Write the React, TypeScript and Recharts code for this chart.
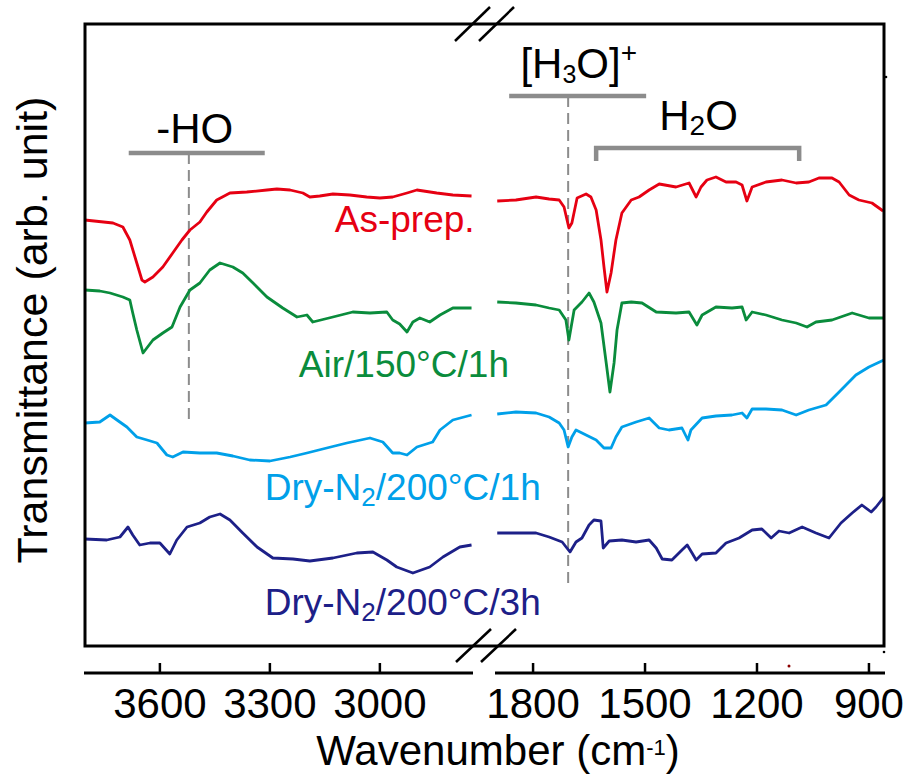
import React from 'react';
import { LineChart, Line, XAxis, YAxis, ReferenceDot } from 'recharts';

type Pair = [number, number];

const FONT = 'Arial, "Liberation Sans", Helvetica, sans-serif';

// axis set-up (wavenumber, cm-1)
const LEFT_DOMAIN: [number, number] = [2746, 3807];
const RIGHT_DOMAIN: [number, number] = [857, 1902];
const LEFT_TICKS = [3600, 3300, 3000];
const RIGHT_TICKS = [1800, 1500, 1200, 900];
const Y_DOMAIN: [number, number] = [0, 64.9];

// series: [wavenumber, transmittance (arb. unit, offset)]
const asPrepLeft: Pair[] = [[3805,45.3],[3728,45.0],[3701,44.6],[3682,43.3],[3663,41.0],[3649,39.3],[3641,39.1],[3619,39.6],[3592,40.6],[3565,42.0],[3540,43.3],[3518,44.3],[3491,45.1],[3472,46.1],[3445,47.3],[3409,48.0],[3363,48.1],[3308,48.3],[3281,48.4],[3245,48.3],[3210,48.0],[3191,47.6],[3164,47.7],[3128,47.9],[3082,47.8],[3036,47.6],[3000,47.5],[2965,47.6],[2926,48.0],[2899,48.3],[2845,48.0],[2801,47.8],[2750,47.7]];
const asPrepRight: Pair[] = [[1896,47.2],[1846,47.3],[1792,47.6],[1757,47.4],[1730,47.3],[1717,46.6],[1704,44.5],[1696,45.0],[1682,47.5],[1658,47.9],[1645,47.6],[1631,46.3],[1618,43.3],[1610,40.6],[1602,38.1],[1591,40.0],[1578,43.3],[1562,46.0],[1537,47.3],[1516,47.6],[1489,48.3],[1462,48.9],[1417,48.6],[1382,49.0],[1363,47.6],[1350,48.6],[1334,49.3],[1310,49.6],[1283,49.1],[1256,49.1],[1240,48.8],[1227,47.2],[1213,48.6],[1176,49.1],[1133,49.3],[1095,49.0],[1061,49.1],[1034,49.5],[999,49.5],[980,49.1],[953,47.8],[927,47.3],[892,47.0],[862,46.2]];

const airLeft: Pair[] = [[3805,38.3],[3764,38.2],[3736,38.0],[3701,37.6],[3682,37.3],[3674,36.0],[3663,34.3],[3646,32.0],[3619,33.3],[3592,34.0],[3567,34.6],[3545,36.6],[3518,38.3],[3491,39.0],[3464,40.3],[3436,41.0],[3401,40.6],[3374,40.0],[3346,39.0],[3308,37.6],[3265,36.5],[3226,35.6],[3199,35.8],[3183,35.1],[3128,35.6],[3074,36.1],[3027,36.0],[2981,36.1],[2965,35.3],[2946,34.9],[2926,34.1],[2910,35.1],[2891,35.5],[2864,35.1],[2836,35.8],[2801,36.5],[2750,36.5]];
const airRight: Pair[] = [[1896,37.1],[1846,37.0],[1792,36.8],[1757,36.5],[1730,36.3],[1712,35.3],[1704,33.3],[1690,36.3],[1669,37.1],[1650,38.0],[1637,37.1],[1618,35.0],[1604,31.0],[1594,28.1],[1583,31.0],[1575,34.3],[1562,37.0],[1537,37.1],[1508,37.0],[1470,36.1],[1417,36.0],[1382,36.1],[1361,34.8],[1347,35.8],[1310,36.6],[1267,36.5],[1240,36.6],[1229,35.3],[1213,36.1],[1176,35.8],[1133,35.3],[1095,35.0],[1066,34.6],[1042,35.1],[999,35.3],[945,36.0],[900,35.5],[862,35.5]];

const dry1hLeft: Pair[] = [[3805,25.0],[3764,25.1],[3736,25.8],[3717,25.3],[3690,24.6],[3663,23.6],[3635,23.3],[3608,23.0],[3581,21.8],[3565,21.6],[3537,22.1],[3491,22.0],[3445,22.0],[3401,21.7],[3355,21.3],[3300,21.2],[3245,21.6],[3199,22.0],[3145,22.5],[3090,23.0],[3027,23.5],[2992,23.1],[2965,22.0],[2946,22.0],[2926,21.8],[2899,22.6],[2856,23.1],[2836,24.3],[2801,25.3],[2750,25.8]];
const dry1hRight: Pair[] = [[1896,25.9],[1846,26.1],[1792,26.0],[1757,25.6],[1730,25.0],[1717,24.3],[1706,22.6],[1696,23.6],[1685,24.3],[1658,23.8],[1631,23.3],[1610,22.5],[1591,22.5],[1578,23.6],[1562,24.6],[1524,25.1],[1489,25.5],[1462,24.5],[1436,24.3],[1401,24.5],[1385,23.3],[1377,24.3],[1347,25.5],[1310,25.7],[1267,25.8],[1240,26.0],[1227,25.5],[1213,26.4],[1176,26.4],[1133,26.3],[1095,25.8],[1061,26.3],[1015,26.8],[980,28.1],[935,29.8],[900,30.6],[860,31.3]];

const dry3hLeft: Pair[] = [[3805,13.4],[3745,13.3],[3709,13.6],[3687,14.6],[3674,13.8],[3655,12.8],[3627,13.0],[3600,13.0],[3573,11.9],[3554,13.3],[3526,14.6],[3491,15.0],[3464,15.6],[3436,15.9],[3409,15.3],[3374,14.0],[3335,12.6],[3292,11.5],[3237,11.4],[3191,11.2],[3128,11.5],[3063,12.0],[3019,12.1],[2981,11.3],[2954,10.6],[2910,10.0],[2864,10.6],[2828,11.6],[2782,12.6],[2750,12.8]];
const dry3hRight: Pair[] = [[1896,14.0],[1846,14.0],[1792,14.0],[1757,13.6],[1722,13.1],[1701,12.1],[1685,13.1],[1669,13.5],[1650,14.8],[1637,15.3],[1618,15.2],[1612,12.5],[1596,13.2],[1562,13.3],[1524,13.1],[1489,13.3],[1470,12.5],[1454,11.4],[1428,11.3],[1401,12.3],[1387,12.8],[1374,12.0],[1363,11.3],[1347,11.9],[1310,12.0],[1283,13.0],[1248,13.5],[1213,14.3],[1187,14.4],[1162,13.5],[1141,14.2],[1114,14.0],[1079,14.6],[1042,14.0],[1007,13.5],[975,15.0],[945,16.0],[919,16.8],[894,16.1],[881,16.6],[860,17.6]];

// annotation guides
const hoBar: Pair[] = [[3685,52.0],[3314,52.0]];
const hoMarker: Pair[] = [[3521,52.0],[3521,25.1]];
const h3oBar: Pair[] = [[1864,57.7],[1497,57.7]];
const h3oMarker: Pair[] = [[1706,57.7],[1706,8.6]];
const h2oBracket: Pair[] = [[1631,51.2],[1631,52.5],[1087,52.5],[1087,51.2]];

const COLORS = {
  asPrep: '#E60012',
  air: '#0A8C3C',
  dry1h: '#00A0E9',
  dry3h: '#1D2088',
  guide: '#8C8C8C',
};

const toPts = (arr: Pair[]) => arr.map(([wn, t]) => ({ wn, t }));

const CustomTick = (props: any) => {
  const { x, y, payload } = props;
  return (
    <g>
      <line x1={x} x2={x} y1={y} y2={y - 10} stroke="#000" strokeWidth={2.5} />
      <text x={x} y={y + 15} dy="0.71em" textAnchor="middle" fontSize={42} fontFamily={FONT} fill="#000">
        {payload.value}
      </text>
    </g>
  );
};

const labelShape = (content: React.ReactNode, color: string, size: number, anchor: string) => (p: any) => (
  <text x={p.cx} y={p.cy} fill={color} fontSize={size} fontFamily={FONT} textAnchor={anchor}>
    {content}
  </text>
);

const seriesLine = (arr: Pair[], color: string, key: string) => (
  <Line
    key={key}
    data={toPts(arr)}
    dataKey="t"
    type="linear"
    dot={false}
    activeDot={false}
    stroke={color}
    strokeWidth={2.8}
    strokeLinejoin="round"
    isAnimationActive={false}
  />
);

const guideLine = (arr: Pair[], key: string, dashed = false) => (
  <Line
    key={key}
    data={toPts(arr)}
    dataKey="t"
    type="linear"
    dot={false}
    activeDot={false}
    stroke={COLORS.guide}
    strokeWidth={dashed ? 2 : 4.5}
    strokeDasharray={dashed ? '11 6' : undefined}
    isAnimationActive={false}
  />
);

const sub = (txt: string, size: number, dy: number, rest: string) => (
  <>
    <tspan fontSize={size} dy={dy}>{txt}</tspan>
    <tspan dy={-dy}>{rest}</tspan>
  </>
);

export default function App() {
  return (
    <div style={{ position: 'absolute', left: 0, top: 0, width: 909, height: 778, background: '#fff' }}>
      {/* Left panel: 3800 - 2750 cm-1 */}
      <div style={{ position: 'absolute', left: 0, top: 0 }}>
        <LineChart width={909} height={778} margin={{ top: 24, left: 84, right: 436, bottom: 45 }}>
          <XAxis
            type="number"
            dataKey="wn"
            domain={LEFT_DOMAIN}
            reversed
            allowDataOverflow
            ticks={LEFT_TICKS}
            interval={0}
            height={60}
            tickSize={0}
            tickMargin={0}
            tickLine={false}
            tick={<CustomTick />}
            axisLine={{ stroke: '#000', strokeWidth: 3 }}
          />
          <YAxis type="number" domain={Y_DOMAIN} hide allowDataOverflow />
          {guideLine(hoMarker, 'hoMarker', true)}
          {guideLine(hoBar, 'hoBar')}
          {seriesLine(asPrepLeft, COLORS.asPrep, 'a')}
          {seriesLine(airLeft, COLORS.air, 'b')}
          {seriesLine(dry1hLeft, COLORS.dry1h, 'c')}
          {seriesLine(dry3hLeft, COLORS.dry3h, 'd')}
          <ReferenceDot x={3505} y={53.0} shape={labelShape('-HO', '#000', 42, 'middle')} />
          <ReferenceDot x={3123} y={44.1} shape={labelShape('As-prep.', COLORS.asPrep, 37, 'start')} />
          <ReferenceDot x={3221} y={29.6} shape={labelShape('Air/150°C/1h', COLORS.air, 37, 'start')} />
          <ReferenceDot
            x={3314}
            y={17.3}
            shape={labelShape(<>Dry-N{sub('2', 26, 6, '/200°C/1h')}</>, COLORS.dry1h, 37, 'start')}
          />
          <ReferenceDot
            x={3314}
            y={5.8}
            shape={labelShape(<>Dry-N{sub('2', 26, 6, '/200°C/3h')}</>, COLORS.dry3h, 37, 'start')}
          />
        </LineChart>
      </div>

      {/* Right panel: 1900 - 860 cm-1 */}
      <div style={{ position: 'absolute', left: 0, top: 0 }}>
        <LineChart width={909} height={778} margin={{ top: 24, left: 495, right: 24, bottom: 45 }}>
          <XAxis
            type="number"
            dataKey="wn"
            domain={RIGHT_DOMAIN}
            reversed
            allowDataOverflow
            ticks={RIGHT_TICKS}
            interval={0}
            height={60}
            tickSize={0}
            tickMargin={0}
            tickLine={false}
            tick={<CustomTick />}
            axisLine={{ stroke: '#000', strokeWidth: 3 }}
          />
          <YAxis type="number" domain={Y_DOMAIN} hide allowDataOverflow />
          {guideLine(h3oMarker, 'h3oMarker', true)}
          {guideLine(h3oBar, 'h3oBar')}
          {guideLine(h2oBracket, 'h2oBracket')}
          {seriesLine(asPrepRight, COLORS.asPrep, 'a')}
          {seriesLine(airRight, COLORS.air, 'b')}
          {seriesLine(dry1hRight, COLORS.dry1h, 'c')}
          {seriesLine(dry3hRight, COLORS.dry3h, 'd')}
          <ReferenceDot
            x={1834}
            y={59.5}
            shape={labelShape(
              <>
                [H
                <tspan fontSize={25} dy={5}>3</tspan>
                <tspan dy={-5}>O]</tspan>
                <tspan fontSize={28} dy={-16}>+</tspan>
              </>,
              '#000',
              42,
              'start'
            )}
          />
          <ReferenceDot
            x={1462}
            y={54.3}
            shape={labelShape(<>H{sub('2', 28, 5, 'O')}</>, '#000', 42, 'start')}
          />
        </LineChart>
      </div>

      {/* frame, axis break marks and axis titles */}
      <svg
        width={909}
        height={778}
        style={{ position: 'absolute', left: 0, top: 0, pointerEvents: 'none' }}
      >
        <rect x={85} y={24} width={799} height={622} fill="none" stroke="#000" strokeWidth={3} />
        <g stroke="#000" strokeWidth={2.5}>
          <line x1={455} y1={41} x2={490} y2={7} />
          <line x1={479} y1={41} x2={514} y2={7} />
          <line x1={456} y1={662} x2={491} y2={629} />
          <line x1={481} y1={662} x2={516} y2={629} />
        </g>
        <circle cx={886} cy={77} r={1.3} fill="#000" />
        <circle cx={884} cy={652} r={1.3} fill="#000" />
        <circle cx={789} cy={666} r={1.5} fill="#8B0000" />
        <text
          x={47}
          y={330}
          transform="rotate(-90 47 330)"
          textAnchor="middle"
          fontSize={43}
          fontFamily={FONT}
          fill="#000"
        >
          Transmittance (arb. unit)
        </text>
        <text x={498} y={765} textAnchor="middle" fontSize={42} fontFamily={FONT} fill="#000">
          Wavenumber (cm
          <tspan fontSize={22} dy={-10}>-1</tspan>
          <tspan dy={10}>)</tspan>
        </text>
      </svg>
    </div>
  );
}
